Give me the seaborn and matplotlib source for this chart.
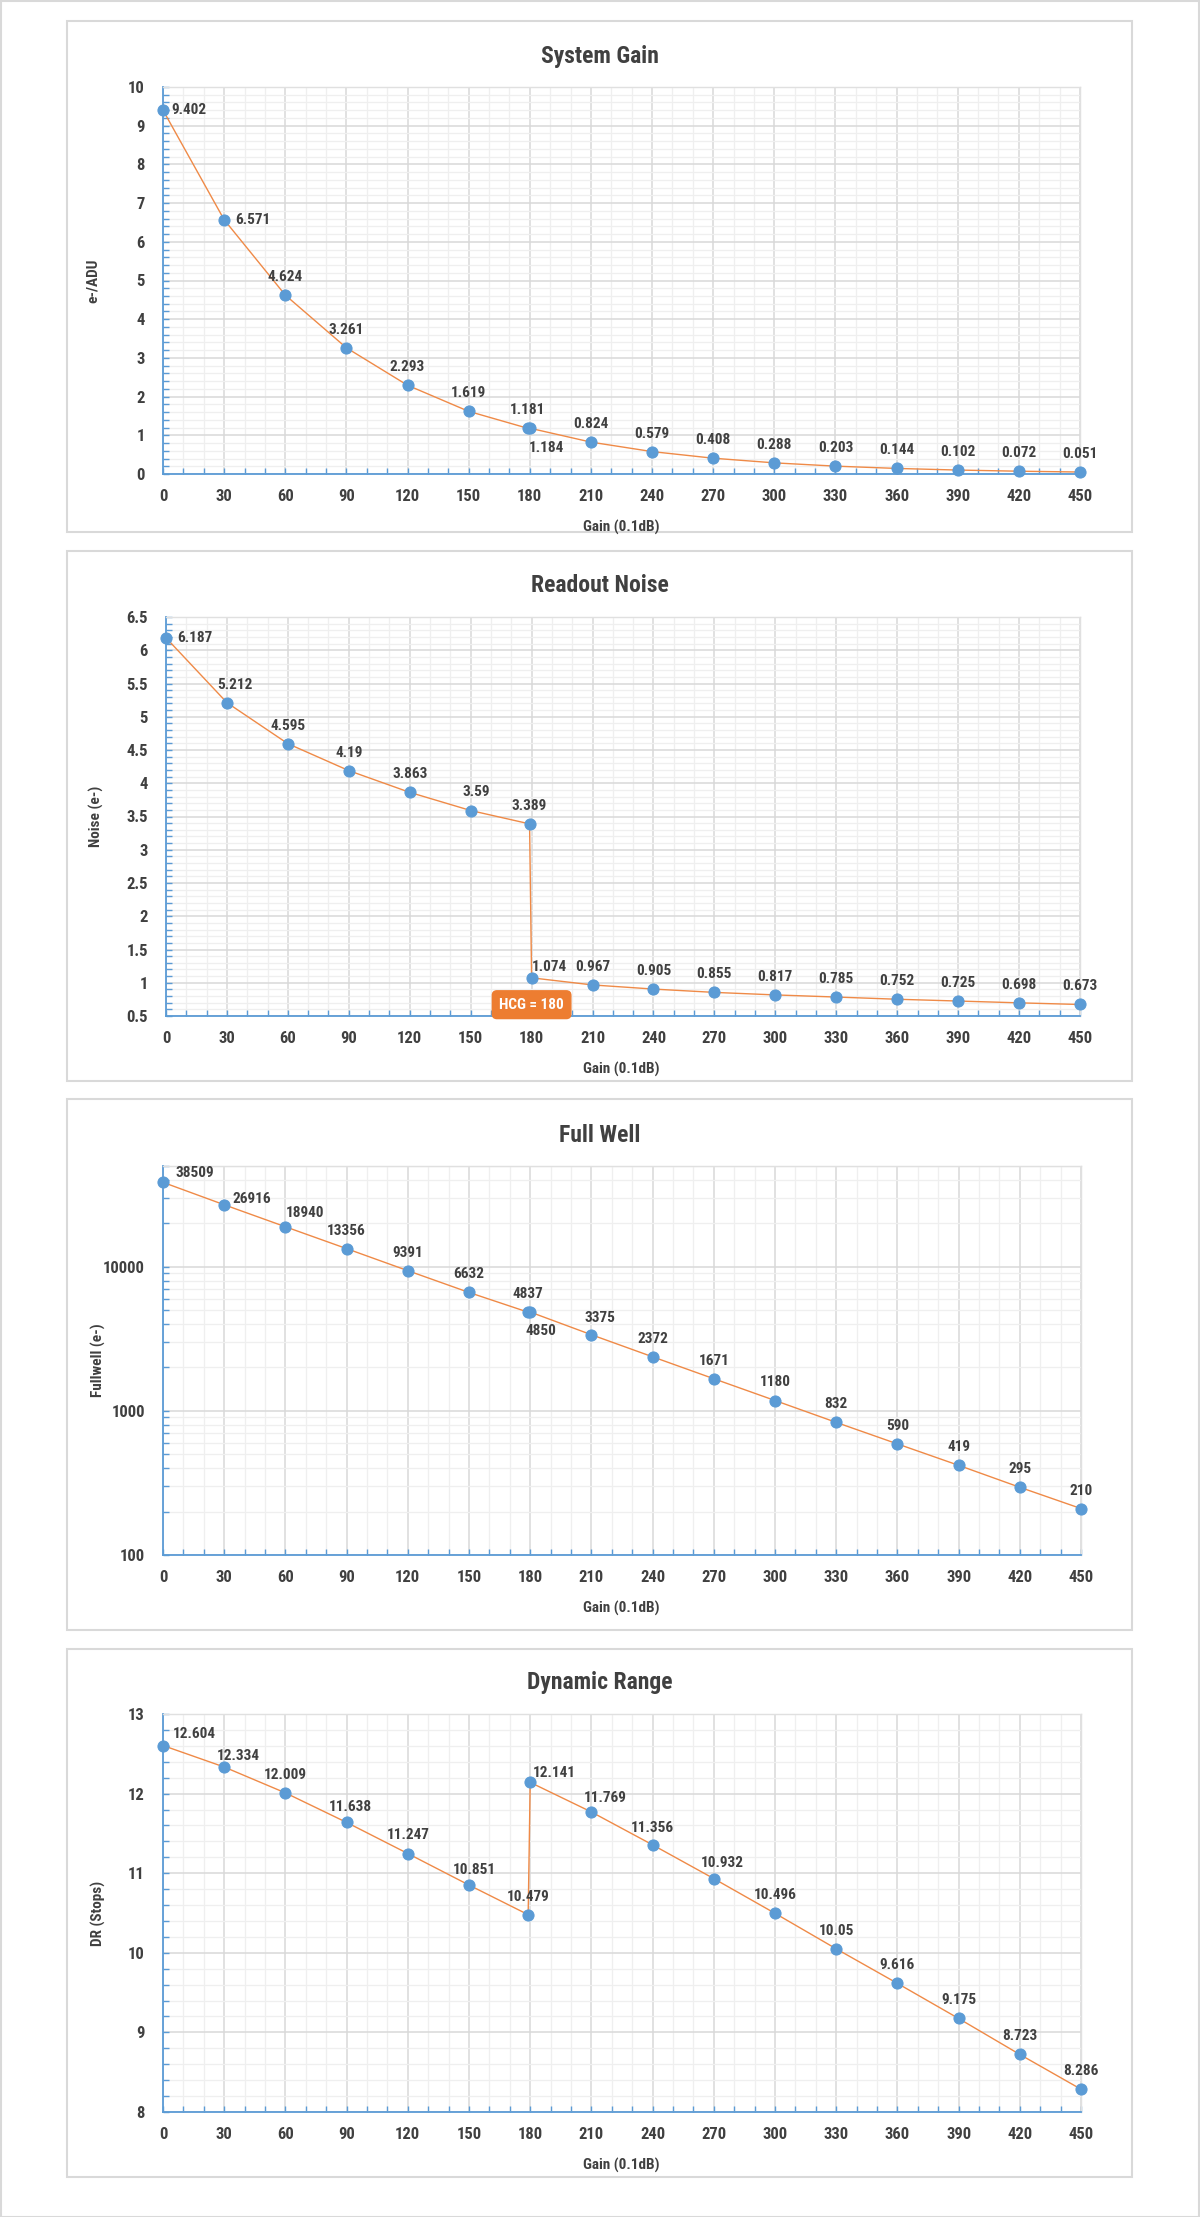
import matplotlib
matplotlib.use('Agg')
import matplotlib.pyplot as plt
import seaborn as sns
import pandas as pd
from matplotlib import font_manager, ticker
from matplotlib.patches import Rectangle

# gain steps (0.1dB); LCG/HCG switch point appears twice near 180
gain = [0, 30, 60, 90, 120, 150, 179, 180, 210, 240, 270, 300, 330, 360, 390, 420, 450]
system_gain = [9.402, 6.571, 4.624, 3.261, 2.293, 1.619, 1.181, 1.184, 0.824, 0.579,
               0.408, 0.288, 0.203, 0.144, 0.102, 0.072, 0.051]
readout_noise = [6.187, 5.212, 4.595, 4.19, 3.863, 3.59, 3.389, 1.074, 0.967, 0.905,
                 0.855, 0.817, 0.785, 0.752, 0.725, 0.698, 0.673]
full_well = [38509, 26916, 18940, 13356, 9391, 6632, 4837, 4850, 3375, 2372,
             1671, 1180, 832, 590, 419, 295, 210]
dynamic_range = [12.604, 12.334, 12.009, 11.638, 11.247, 10.851, 10.479, 12.141, 11.769,
                 11.356, 10.932, 10.496, 10.05, 9.616, 9.175, 8.723, 8.286]

titles = ['System Gain', 'Readout Noise', 'Full Well', 'Dynamic Range']
ylabels = ['e-/ADU', 'Noise (e-)', 'Fullwell (e-)', 'DR (Stops)']
xlabel = 'Gain (0.1dB)'

sns.set_theme(style='white')
installed = {f.name for f in font_manager.fontManager.ttflist}
narrow = [n for n in ('Liberation Sans Narrow', 'Roboto Condensed', 'Open Sans Condensed',
                      'DejaVu Sans Condensed') if n in installed]
plt.rcParams['font.family'] = narrow[:1] + ['DejaVu Sans']
plt.rcParams['font.stretch'] = 'condensed'
plt.rcParams['font.weight'] = 'bold'
plt.rcParams['axes.labelweight'] = 'bold'

W, H = 1200, 2217
LINE = '#EF8A47'
DOT = '#5B9BD5'
TXT = '#404040'

fig = plt.figure(figsize=(W / 100, H / 100), dpi=100)
fig.patches.append(Rectangle((0.5 / W, 0.5 / H), 1 - 1.5 / W, 1 - 1.5 / H, transform=fig.transFigure,
                             fill=False, ec='#d9d9d9', lw=1.5, zorder=-2))

# pixel boxes: panel (top, bottom), axes (left, right, top, bottom), ylabel x
panels = [(21, 532), (551, 1081), (1099, 1630), (1649, 2177)]
axboxes = [(163, 1080, 87, 474), (166, 1080, 617, 1016), (163, 1081, 1166, 1555), (163, 1081, 1714, 2112)]
ylab_x = [100, 104, 106, 106]

# per-panel label placement: default offset, and overrides {index: (dx, dy, ha)}
label_default = (0, 13)
label_over = [
    {0: (6, 0, 'left'), 1: (8, 0, 'left'), 7: (-1, -14, 'left')},
    {0: (8, 0, 'left'), 1: (6, 13, 'center'), 5: (4, 13, 'center'), 7: (0, 8, 'left')},
    {0: (9, 7, 'left'), 1: (6, 4, 'left'), 2: (14, 10, 'center'), 7: (8, -14, 'center'),
     8: (6, 12, 'center')},
    {0: (7, 8, 'left'), 1: (10, 8, 'center'), 3: (3, 11, 'center'), 5: (4, 11, 'center'),
     7: (2, 7, 'left'), 8: (10, 10, 'center'), 9: (0, 12, 'center'), 10: (6, 11, 'center')},
]
fmt = [lambda v: f'{v:g}', lambda v: f'{v:g}', lambda v: f'{v:.0f}', lambda v: f'{v:g}']

series = [system_gain, readout_noise, full_well, dynamic_range]
ylims = [(0, 10), (0.5, 6.5), (100, 50000), (8, 13)]
ymajor = [1, 0.5, None, 1]
yminor = [0.2, 0.1, None, 0.2]

for i in range(4):
    pt, pb = panels[i]
    fig.patches.append(Rectangle((67 / W, 1 - pb / H), (1132 - 67) / W, (pb - pt) / H,
                                 transform=fig.transFigure, fc='white', ec='#d9d9d9', lw=1.5, zorder=-1))
    l, r, t, b = axboxes[i]
    ax = fig.add_axes([l / W, 1 - b / H, (r - l) / W, (b - t) / H])
    df = pd.DataFrame({'gain': gain, 'value': series[i]})
    sns.lineplot(data=df, x='gain', y='value', estimator=None, sort=False, ax=ax,
                 color=LINE, lw=1.0, marker='o', markersize=8, markerfacecolor=DOT,
                 markeredgecolor=DOT, zorder=3)
    for ln in ax.lines:
        ln.set_clip_on(False)

    ax.set_xlim(0, 450)
    ax.xaxis.set_major_locator(ticker.MultipleLocator(30))
    ax.xaxis.set_minor_locator(ticker.MultipleLocator(10))
    if i == 2:
        ax.set_yscale('log')
        ax.yaxis.set_major_locator(ticker.LogLocator(base=10, numticks=10))
        ax.yaxis.set_minor_locator(ticker.LogLocator(base=10, subs=range(2, 10), numticks=10))
        ax.yaxis.set_major_formatter(ticker.FuncFormatter(lambda v, _: f'{v:g}'))
        ax.yaxis.set_minor_formatter(ticker.NullFormatter())
    else:
        ax.yaxis.set_major_locator(ticker.MultipleLocator(ymajor[i]))
        ax.yaxis.set_minor_locator(ticker.MultipleLocator(yminor[i]))
        ax.yaxis.set_major_formatter(ticker.FuncFormatter(lambda v, _: f'{v:g}'))
    ax.set_ylim(*ylims[i])

    ax.set_axisbelow(True)
    ax.grid(which='major', color='#d9d9d9', lw=1.1)
    ax.grid(which='minor', color='#efefef', lw=0.9)
    for s in ('left', 'bottom'):
        ax.spines[s].set_color(DOT)
        ax.spines[s].set_linewidth(1.3)
    for s in ('top', 'right'):
        ax.spines[s].set_color('#e0e0e0')
        ax.spines[s].set_linewidth(1)
    ax.tick_params(which='both', direction='in', color=DOT, length=4, width=1,
                   labelsize=12, labelcolor=TXT, left=True, bottom=True)
    ax.tick_params(axis='x', which='both', pad=11)
    ax.tick_params(axis='y', which='both', pad=13)

    ax.set_xlabel(xlabel, fontsize=11, color=TXT, fontweight='bold')
    ax.xaxis.set_label_coords(621 / W, 1 - (b + 46) / H, transform=fig.transFigure)
    ax.set_ylabel(ylabels[i], fontsize=11, color=TXT, fontweight='bold')
    ax.yaxis.set_label_coords(ylab_x[i] / W, 1 - (t + b) / 2 / H, transform=fig.transFigure)
    fig.text(0.5, 1 - (t - 31) / H, titles[i], ha='center', va='center',
             fontsize=17, fontweight='bold', color=TXT)

    for k, (gx, v) in enumerate(zip(gain, series[i])):
        dx, dy, ha = label_over[i].get(k, (label_default[0], label_default[1], 'center'))
        ax.annotate(fmt[i](v), (gx, v), xytext=(dx, dy), textcoords='offset points',
                    ha=ha, va='center', fontsize=11, color=TXT, zorder=4, annotation_clip=False)

    if i == 1:
        ax.text(180, 0.67, 'HCG = 180', ha='center', va='center', fontsize=11, color='white',
                fontweight='bold', zorder=5,
                bbox=dict(boxstyle='round,pad=0.45,rounding_size=0.3', fc='#ED7D31', ec='#ED7D31'))

fig.savefig('out.png', dpi=100)
